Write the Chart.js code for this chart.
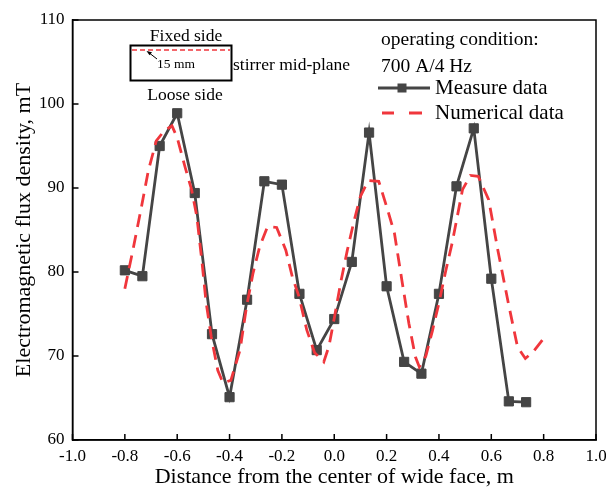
<!DOCTYPE html>
<html>
<head>
<meta charset="utf-8">
<script src="https://cdn.jsdelivr.net/npm/chart.js@4"></script>
<style>
  body { margin: 0; background: #fff; }
</style>
</head>
<body>
<canvas id="chart" width="606" height="490"></canvas>
<script>
// measured values (square markers)
const measureX = [-0.8, -0.733, -0.667, -0.6, -0.533, -0.467, -0.4, -0.333, -0.267, -0.2, -0.133, -0.067,
  0.0, 0.067, 0.133, 0.2, 0.267, 0.333, 0.4, 0.467, 0.533, 0.6, 0.667, 0.733];
const measureY = [80.2, 79.5, 95.0, 98.9, 89.4, 72.6, 65.1, 76.7, 90.8, 90.4, 77.4, 70.7,
  74.4, 81.2, 96.6, 78.3, 69.3, 67.9, 77.4, 90.2, 97.1, 79.2, 64.6, 64.5];

// simulated curve (red dashes)
const numX = [-0.8, -0.77, -0.74, -0.71, -0.68, -0.65, -0.62, -0.6, -0.57, -0.545, -0.525, -0.505, -0.49,
  -0.47, -0.445, -0.425, -0.395, -0.36, -0.335, -0.31, -0.285, -0.255, -0.22, -0.185, -0.16, -0.135,
  -0.105, -0.075, -0.04, -0.02, 0.0, 0.025, 0.05, 0.075, 0.1, 0.13, 0.17, 0.2, 0.23, 0.26, 0.285, 0.31,
  0.325, 0.35, 0.375, 0.4, 0.425, 0.45, 0.49, 0.52, 0.55, 0.59, 0.625, 0.665, 0.7, 0.73, 0.76, 0.8];
const numY = [78.0, 82.5, 87.2, 92.1, 95.6, 96.8, 97.4, 96.0, 92.5, 89.8, 86.6, 81.1, 76.5,
  72.3, 68.3, 66.8, 67.1, 70.7, 75.9, 79.9, 83.0, 85.4, 85.3, 82.6, 79.4, 77.1,
  73.1, 70.4, 69.3, 71.2, 74.5, 78.8, 82.6, 86.0, 89.0, 90.9, 90.8, 87.8, 84.6, 78.7, 73.9, 69.9,
  68.7, 70.0, 73.0, 76.3, 80.0, 83.4, 89.8, 91.5, 91.4, 88.6, 82.6, 76.3, 71.1, 69.7, 70.5, 72.1];

const xTicks = [-1.0, -0.8, -0.6, -0.4, -0.2, 0.0, 0.2, 0.4, 0.6, 0.8, 1.0];
const yTicks = [60, 70, 80, 90, 100, 110];

const serif = "'Liberation Serif', 'Times New Roman', serif";
const grey = "#454545";
const red = "#f0363c";

// frame, inward ticks, inset sketch and legend
const extras = {
  id: "extras",
  afterDraw(chart) {
    const { ctx, chartArea: a, scales } = chart;
    ctx.save();
    ctx.strokeStyle = "#000";
    ctx.lineWidth = 1.5;
    ctx.strokeRect(a.left, a.top, a.right - a.left, a.bottom - a.top);
    ctx.beginPath();
    xTicks.forEach((v) => {
      const px = scales.x.getPixelForValue(v);
      ctx.moveTo(px, a.bottom);
      ctx.lineTo(px, a.bottom - 6);
    });
    yTicks.forEach((v) => {
      const py = scales.y.getPixelForValue(v);
      ctx.moveTo(a.left, py);
      ctx.lineTo(a.left + 6, py);
    });
    ctx.stroke();

    // inset
    ctx.fillStyle = "#000";
    ctx.textBaseline = "middle";
    ctx.textAlign = "center";
    ctx.font = "17.5px " + serif;
    ctx.fillText("Fixed side", 186, 36);
    ctx.fillText("Loose side", 185, 95);
    ctx.lineWidth = 2;
    ctx.strokeRect(130.5, 45.5, 101, 35);
    ctx.setLineDash([5, 3]);
    ctx.strokeStyle = red;
    ctx.lineWidth = 1.5;
    ctx.beginPath();
    ctx.moveTo(132, 50);
    ctx.lineTo(230, 50);
    ctx.stroke();
    ctx.setLineDash([]);
    ctx.strokeStyle = "#000";
    ctx.lineWidth = 1;
    ctx.beginPath();
    ctx.moveTo(157, 59);
    ctx.lineTo(148, 52);
    ctx.stroke();
    ctx.beginPath();
    ctx.moveTo(146.5, 51);
    ctx.lineTo(152, 52.2);
    ctx.lineTo(149.5, 55.3);
    ctx.closePath();
    ctx.fill();
    ctx.textAlign = "left";
    ctx.font = "13.5px " + serif;
    ctx.fillText("15 mm", 157, 64);
    ctx.font = "17.5px " + serif;
    ctx.fillText("stirrer mid-plane", 233, 65);

    // condition + legend
    ctx.font = "19.5px " + serif;
    ctx.fillText("operating condition:", 381, 40);
    ctx.fillText("700 A/4 Hz", 381, 67);
    ctx.strokeStyle = grey;
    ctx.lineWidth = 2.8;
    ctx.beginPath();
    ctx.moveTo(378, 88);
    ctx.lineTo(430, 88);
    ctx.stroke();
    ctx.fillStyle = grey;
    ctx.fillRect(397.5, 83.5, 9, 9);
    ctx.strokeStyle = red;
    ctx.beginPath();
    ctx.moveTo(382, 113);
    ctx.lineTo(394, 113);
    ctx.moveTo(409, 113);
    ctx.lineTo(422, 113);
    ctx.stroke();
    ctx.fillStyle = "#000";
    ctx.font = "21px " + serif;
    ctx.fillText("Measure data", 435, 88);
    ctx.fillText("Numerical data", 435, 113);
    ctx.restore();
  },
};

new Chart(document.getElementById("chart").getContext("2d"), {
  type: "line",
  data: {
    datasets: [
      {
        label: "Numerical data",
        data: numX.map((x, i) => ({ x, y: numY[i] })),
        borderColor: red,
        borderWidth: 2.8,
        borderDash: [13, 8],
        pointRadius: 0,
        tension: 0,
        fill: false,
      },
      {
        label: "Measure data",
        data: measureX.map((x, i) => ({ x, y: measureY[i] })),
        borderColor: grey,
        backgroundColor: grey,
        borderWidth: 2.8,
        pointStyle: "rect",
        pointRadius: 6.5,
        pointBorderWidth: 1,
        tension: 0,
        fill: false,
      },
    ],
  },
  options: {
    responsive: false,
    animation: false,
    layout: { padding: { left: 0, right: 10, top: 20, bottom: 0 } },
    plugins: {
      legend: { display: false },
      tooltip: { enabled: false },
    },
    scales: {
      x: {
        type: "linear",
        min: -1,
        max: 1,
        afterBuildTicks: (s) => { s.ticks = xTicks.map((v) => ({ value: v })); },
        afterFit: (s) => {
          s.height = 50;
          s.paddingLeft = 0;
          s.paddingRight = 0;
        },
        grid: { display: false, drawTicks: false },
        border: { display: true, color: "#000", width: 1.5 },
        ticks: {
          color: "#000",
          padding: 6,
          font: { family: serif, size: 17 },
          callback: (v) => v.toFixed(1),
        },
        title: {
          display: true,
          text: "Distance from the center of wide face, m",
          color: "#000",
          font: { family: serif, size: 22, lineHeight: 1.1 },
          padding: { top: 0, bottom: 1 },
        },
      },
      y: {
        min: 60,
        max: 110,
        afterBuildTicks: (s) => { s.ticks = yTicks.map((v) => ({ value: v })); },
        afterFit: (s) => {
          s.width = 72.5;
          s.paddingTop = 0;
          s.paddingBottom = 0;
        },
        grid: { display: false, drawTicks: false },
        border: { display: true, color: "#000", width: 1.5 },
        ticks: {
          color: "#000",
          padding: 8,
          font: { family: serif, size: 17 },
        },
        title: {
          display: true,
          text: "Electromagnetic flux density, mT",
          color: "#000",
          font: { family: serif, size: 22, lineHeight: 1.1 },
          padding: { top: 12, bottom: 0 },
        },
      },
    },
  },
  plugins: [extras],
});
</script>
</body>
</html>
